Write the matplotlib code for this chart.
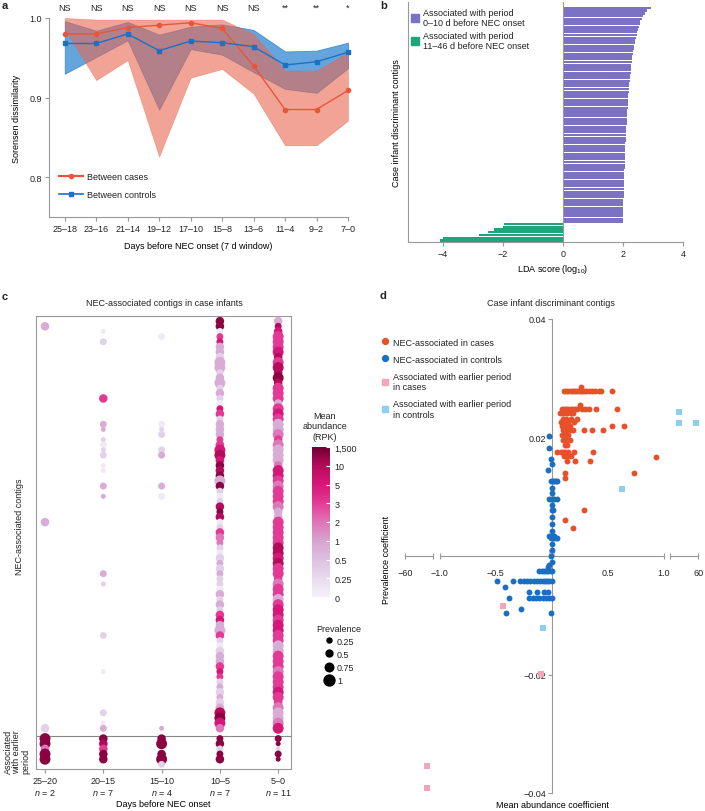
import numpy as np
import matplotlib
matplotlib.use("Agg")
import matplotlib.pyplot as plt
from matplotlib.colors import LinearSegmentedColormap, Normalize
from matplotlib.cm import ScalarMappable
from matplotlib.lines import Line2D
from matplotlib.patches import Patch

plt.rcParams["font.family"] = ["Liberation Sans", "DejaVu Sans"]
plt.rcParams["font.size"] = 6.5
plt.rcParams["mathtext.fontset"] = "custom"
plt.rcParams["mathtext.rm"] = "Liberation Sans"
plt.rcParams["mathtext.it"] = "Liberation Sans:italic"
plt.rcParams["text.color"] = "#222222"
plt.rcParams["axes.edgecolor"] = "#999999"
plt.rcParams["xtick.color"] = "#999999"
plt.rcParams["ytick.color"] = "#999999"
plt.rcParams["xtick.labelcolor"] = "#222222"
plt.rcParams["ytick.labelcolor"] = "#222222"

# ---------------- panel a data ----------------
windows = ["25–18", "23–16", "21–14", "19–12", "17–10", "15–8", "13–6", "11–4", "9–2", "7–0"]
cases_mean = [0.980, 0.980, 0.988, 0.991, 0.994, 0.987, 0.940, 0.885, 0.885, 0.909]
cases_hi = [1.000, 0.998, 0.998, 0.998, 0.998, 0.998, 0.980, 0.934, 0.934, 0.957]
cases_lo = [0.986, 0.922, 0.947, 0.826, 0.925, 0.936, 0.905, 0.840, 0.840, 0.871]
ctrl_mean = [0.968, 0.968, 0.980, 0.959, 0.971, 0.969, 0.964, 0.941, 0.945, 0.957]
ctrl_hi = [0.996, 0.984, 0.995, 0.979, 0.989, 0.992, 0.985, 0.958, 0.959, 0.969]
ctrl_lo = [0.930, 0.951, 0.972, 0.885, 0.961, 0.954, 0.932, 0.911, 0.906, 0.937]
signif = ["NS", "NS", "NS", "NS", "NS", "NS", "NS", "**", "**", "*"]

# ---------------- panel b data ----------------
lda_late = [2.94, 2.80, 2.72, 2.66, 2.62, 2.58, 2.55, 2.52, 2.49, 2.47,
            2.45, 2.43, 2.41, 2.39, 2.38, 2.36, 2.34, 2.33, 2.31, 2.30,
            2.29, 2.28, 2.27, 2.26, 2.25, 2.24, 2.23, 2.22, 2.21, 2.20,
            2.20, 2.19, 2.18, 2.18, 2.17, 2.16, 2.16, 2.15, 2.14, 2.14,
            2.13, 2.13, 2.12, 2.12, 2.11, 2.11, 2.10, 2.10, 2.09, 2.09,
            2.08, 2.08, 2.07, 2.07, 2.06, 2.06, 2.06, 2.05, 2.05, 2.05,
            2.04, 2.04, 2.04, 2.03, 2.03, 2.03, 2.03, 2.02, 2.02, 2.02,
            2.02, 2.01, 2.01, 2.01, 2.01, 2.00, 2.00, 2.00, 2.00, 1.99]
lda_early = [-1.98, -2.00, -2.30, -2.50, -2.80, -4.00, -4.10]

# ---------------- panel c data ----------------
periods = ["25–20", "20–15", "15–10", "10–5", "5–0"]
n_infants = [2, 7, 4, 7, 11]
# abundance level per NEC-associated contig (top to bottom), '0' lightest .. '7' darkest
abund_10_5 = "7704522122" "1221210541" "2224456576" "7271016760" "1433101212" "1102121452" "2410122454" "1212126753"
prev_10_5 = "3322233344" "2342322232" "3332344333" "3432223232" "2332223232" "2223232333" "4322333322" "2232334443"
abund_5_0 = "2654445646" "6764442454" "2234322235" "5434443224" "4444665644" "4344245545" "5442244434" "4454432235"
prev_5_0 = "3234444344" "3434443444" "4443444434" "4444444334" "4444444444" "3444444444" "4444444444" "4444344444"
# sparse columns: (contig row, abundance level, prevalence code)
sparse_25_20 = [(1, 2, 3), (39, 2, 3), (79, 1, 3)]
sparse_20_15 = [(2, 0, 1), (4, 1, 2), (15, 4, 3), (20, 2, 2), (21, 2, 1), (23, 1, 1), (24, 0, 2),
                (25, 1, 1), (26, 1, 2), (28, 0, 1), (29, 0, 1), (32, 2, 2), (34, 2, 1), (49, 2, 2),
                (51, 1, 1), (61, 1, 2), (68, 0, 1), (76, 1, 2), (78, 0, 1), (79, 2, 2)]
sparse_15_10 = [(3, 0, 2), (20, 0, 2), (21, 1, 1), (22, 1, 2), (25, 1, 2), (26, 2, 2),
                (32, 2, 2), (34, 0, 2), (79, 2, 1)]
# contigs associated with the earlier period (rows 81-86)
early_25_20 = [(81, 7, 4), (82, 7, 4), (83, 3, 3), (84, 7, 4), (85, 7, 4)]
early_20_15 = [(81, 7, 3), (82, 6, 3), (83, 4, 3), (84, 7, 3), (85, 7, 3)]
early_15_10 = [(81, 7, 3), (82, 7, 4), (84, 7, 3), (85, 7, 4), (86, 1, 2)]
early_10_5 = [(81, 7, 2), (82, 7, 3), (83, 1, 2), (84, 7, 2), (85, 7, 3)]
early_5_0 = [(81, 7, 2), (82, 7, 1), (83, 1, 1), (84, 7, 2), (85, 7, 1)]
cbar_labels = ["0", "0.25", "0.5", "1", "2", "3", "5", "10", "1,500"]
prevalence_vals = [0.25, 0.5, 0.75, 1]

# ---------------- panel d data ----------------
red_x = [0.11, 0.13, 0.15, 0.17, 0.19, 0.21, 0.23, 0.25, 0.27, 0.29, 0.31, 0.33, 0.36, 0.39, 0.42, 0.44, 0.54,
         0.26, 0.25,
         0.09, 0.11, 0.13, 0.15, 0.17, 0.19, 0.21, 0.23, 0.27, 0.30, 0.33, 0.40, 0.58,
         0.07, 0.09, 0.11, 0.14, 0.17, 0.19,
         0.10, 0.13, 0.17, 0.23,
         0.08, 0.12, 0.15, 0.20,
         0.09, 0.13, 0.16, 0.54, 0.65,
         0.10, 0.12, 0.14, 0.17, 0.19, 0.29, 0.36, 0.46,
         0.09, 0.12, 0.15,
         0.10, 0.13, 0.16,
         0.12, 0.14,
         0.05, 0.08, 0.10, 0.12, 0.15, 0.20, 0.37,
         0.11, 0.14, 0.17,
         0.14, 0.21, 0.34,
         0.93, 0.12, 0.74, 0.12, 0.29, 0.12, 0.19]
red_y = [0.0278] * 17 + [0.0285, 0.0255] + [0.0248] * 13 + [0.0241] * 6 + [0.0232] * 4 + [0.0226] * 4 \
    + [0.0220] * 5 + [0.0212] * 8 + [0.0204] * 3 + [0.0196] * 3 + [0.0187] * 2 + [0.0176] * 7 \
    + [0.0168] * 3 + [0.0160] * 3 + [0.0167, 0.0140, 0.0140, 0.0131, 0.0077, 0.0061, 0.0048]
blue_x = [-0.02, -0.02, -0.005, 0.0, -0.03,
          -0.005, 0.01, 0.025, 0.04, 0.05,
          0.005, 0.0,
          -0.02, -0.005, 0.01, 0.025, 0.045,
          0.0, 0.0, 0.015, 0.0, 0.005, 0.0,
          -0.02, 0.0, 0.02,
          -0.01, 0.01, 0.03, 0.05,
          0.005, 0.0, -0.01, 0.0, -0.02, -0.03,
          -0.11, -0.09, -0.07, -0.05, -0.03, -0.01, 0.0,
          -0.49, -0.35, -0.28, -0.25, -0.22, -0.19, -0.16, -0.13, -0.10, -0.08, -0.06, -0.04, -0.02, 0.0,
          -0.42,
          -0.20, -0.13, -0.07, -0.03,
          -0.38, -0.20, -0.17, -0.14, -0.11, -0.08, -0.05, -0.02, 0.0,
          -0.27, -0.41, -0.01]
blue_y = [0.0203, 0.0183, 0.0163, 0.0155, 0.0145] + [0.0127] * 5 + [0.0114, 0.0106] + [0.0097] * 5 \
    + [0.0086, 0.0077, 0.0077, 0.0066, 0.0054, 0.0042] + [0.0033] * 3 + [0.0030] * 4 \
    + [0.0021, 0.0010, 0.0, -0.00095, -0.0015, -0.0018] + [-0.0025] * 7 + [-0.0042] * 14 + [-0.0053] \
    + [-0.0060] * 4 + [-0.0071] * 9 + [-0.0089, -0.0097, -0.0097]
ltblue_x = [19.2, 19.2, 55.3, 0.63, -0.074]
ltblue_y = [0.0243, 0.0225, 0.0225, 0.0113, -0.0122]
pink_x = [-0.435, -0.092, -12.8, -12.8, 0.0]
pink_y = [-0.0084, -0.0199, -0.0355, -0.0391, 0.0005]

RED = "#e8563a"
BLUE = "#1f6fc4"

fig = plt.figure(figsize=(7.05, 8.12), dpi=100)


def fr(x0, y0, x1, y1):
    return [x0 / 705, 1 - y1 / 812, (x1 - x0) / 705, (y1 - y0) / 812]


def letter(x, y, s):
    fig.text(x / 705, 1 - y / 812, s, fontsize=8, fontweight="bold", va="center", ha="left")


# ================= a =================
ax = fig.add_axes(fr(49, 19, 348, 218))
x = np.arange(len(windows))
ax.fill_between(x, ctrl_lo, ctrl_hi, color="#3d8fd6", alpha=0.8, lw=0.6, edgecolor="#2f7fcf", clip_on=False)
ax.fill_between(x, cases_lo, cases_hi, color="#e8664f", alpha=0.6, lw=0.4, edgecolor="#e8664f", clip_on=False)
ax.plot(x, cases_mean, "-o", color=RED, lw=1.0, ms=3, clip_on=False, label="Between cases")
ax.plot(x, ctrl_mean, "-s", color=BLUE, lw=1.0, ms=3, clip_on=False, label="Between controls")
ax.set_xlim(-0.5, 9)
ax.set_ylim(0.75, 1.0)
ax.set_yticks([0.8, 0.9, 1.0])
ax.set_yticklabels(["0.8", "0.9", "1.0"])
ax.set_xticks(x)
ax.set_xticklabels(windows)
ax.tick_params(length=3, width=0.8, pad=2)
for s in ["top", "right"]:
    ax.spines[s].set_visible(False)
ax.set_ylabel("Sorensen dissimilarity", labelpad=6)
ax.set_xlabel("Days before NEC onset (7 d window)")
ax.xaxis.set_label_coords((198 - 49) / 299, (218 - 242) / 199)
for xi, s in zip(x, signif):
    ax.text(xi, 1.055, s, transform=ax.get_xaxis_transform(), ha="center", va="center", fontsize=6.5)
handles = [Line2D([], [], color=RED, marker="o", lw=1.6, ms=3),
           Line2D([], [], color=BLUE, marker="s", lw=1.2, ms=3)]
ax.legend(handles, ["Between cases", "Between controls"], loc="upper left",
          bbox_to_anchor=(0.035, 0.225), frameon=False, borderpad=0, borderaxespad=0,
          handlelength=2.6, handletextpad=0.4, labelspacing=1.0, fontsize=6.5)
letter(2, 6, "a")

# ================= b =================
ax = fig.add_axes(fr(408, 3, 683, 243))
late_bottom_first = lda_late[::-1]
early_bottom_first = lda_early[::-1]
ypos_e = np.arange(len(early_bottom_first))
ypos_l = np.arange(len(late_bottom_first)) + len(early_bottom_first)
ax.barh(ypos_e, early_bottom_first, height=0.86, color="#1ea57c", lw=0)
ax.barh(ypos_l, late_bottom_first, height=0.86, color="#7b72c4", lw=0)
ax.axvline(0, color="#999999", lw=0.8)
ax.set_xlim(-5.17, 4)
ax.set_ylim(-0.6, len(early_bottom_first) + len(late_bottom_first) + 1.2)
ax.set_xticks([-4, -2, 0, 2, 4])
ax.set_yticks([])
ax.tick_params(length=3, width=0.8, pad=2)
for s in ["top", "right"]:
    ax.spines[s].set_visible(False)
ax.set_ylabel("Case infant discriminant contigs")
ax.yaxis.set_label_coords(-0.025, 0.5)
ax.set_xlabel("LDA score (log$_{10}$)")
ax.xaxis.set_label_coords((553 - 408) / 275, (243 - 263) / 240)
ax.legend([Patch(color="#7b72c4"), Patch(color="#1ea57c")],
          ["Associated with period\n0–10 d before NEC onset",
           "Associated with period\n11–46 d before NEC onset"],
          loc="upper left", bbox_to_anchor=(0.012, 0.975), frameon=False, borderpad=0, borderaxespad=0,
          handlelength=0.85, handleheight=0.85, handletextpad=0.5, labelspacing=0.4, fontsize=6.5)
letter(380, 6, "b")

# ================= c =================
ax = fig.add_axes(fr(36, 317, 291, 770))
cmap = LinearSegmentedColormap.from_list("rpk", ["#f5f0f7", "#e8dbee", "#dcc0e0", "#d7a3d0", "#df74b6",
                                                 "#e33c96", "#d61878", "#b80a5c", "#6e0030"])
norm = Normalize(0, 8)
level_pos = [0.3, 1.4, 2.7, 3.9, 5.0, 6.0, 7.0, 7.6]
prev_s = [13, 25, 38, 62]

cols = []
for ci, sp in enumerate([sparse_25_20, sparse_20_15, sparse_15_10]):
    cols.append((ci, sp))
cols.append((3, [(i, int(a), int(p)) for i, (a, p) in enumerate(zip(abund_10_5, prev_10_5))]))
cols.append((4, [(i, int(a), int(p)) for i, (a, p) in enumerate(zip(abund_5_0, prev_5_0))]))
early = [early_25_20, early_20_15, early_15_10, early_10_5, early_5_0]
for ci, pts in cols:
    pts = pts + early[ci]
    rows = [p[0] for p in pts]
    colors = [cmap(norm(level_pos[p[1]])) for p in pts]
    sizes = [prev_s[p[2] - 1] for p in pts]
    ax.scatter([ci] * len(pts), rows, s=sizes, c=colors, lw=0, zorder=3)
ax.axhline(80.5, color="#888888", lw=0.8)
ax.set_ylim(86.9, -1)
ax.set_xlim(-0.155, 4.22)
ax.set_yticks([])
ax.set_xticks(range(5))
ax.set_xticklabels([f"{p}\n$n$ = {n}" for p, n in zip(periods, n_infants)])
ax.tick_params(axis="x", length=3, width=0.8, pad=2)
ax.set_xlabel("Days before NEC onset")
ax.xaxis.set_label_coords((163 - 36) / 255, (770 - 800) / 453)
fig.text(164 / 705, 1 - 304 / 812, "NEC-associated contigs in case infants", ha="center", va="center")
fig.text(20 / 705, 1 - 527 / 812, "NEC-associated contigs", rotation=90, ha="center", va="center")
fig.text(17 / 705, 1 - 752 / 812, "Associated\nwith earlier\nperiod", rotation=90, ha="center", va="center",
         linespacing=1.0, multialignment="left")
letter(2, 297, "c")

cax = fig.add_axes(fr(312, 448, 330, 598))
cb = fig.colorbar(ScalarMappable(norm=norm, cmap=cmap), cax=cax, ticks=range(9))
cb.ax.set_yticklabels(cbar_labels)
cb.outline.set_visible(False)
cb.ax.tick_params(direction="in", color="white", length=3, width=0.8, labelsize=6.5, pad=3)
fig.text(325 / 705, 1 - 427 / 812, "Mean\nabundance\n(RPK)", ha="center", va="center", linespacing=1.2)
prev_handles = [Line2D([], [], ls="", marker="o", color="black", ms=np.sqrt(s)) for s in prev_s]
fig.legend(prev_handles, [f"{v:g}" for v in prevalence_vals], title="Prevalence",
           loc="upper left", bbox_to_anchor=(312 / 705, 1 - 620 / 812), frameon=False,
           borderpad=0, handletextpad=0.3, labelspacing=0.45, fontsize=6.5, title_fontsize=6.5,
           handlelength=1.2)

# ================= d =================


def fwd(v):
    v = np.asarray(v, dtype=float)
    a = np.abs(v)
    return np.where(a <= 1, v, np.sign(v) * (1.06 + (a - 1) * 0.25 / 59))


def inv(u):
    u = np.asarray(u, dtype=float)
    a = np.abs(u)
    return np.where(a <= 1, u, np.where(a < 1.06, np.sign(u), np.sign(u) * (1 + (a - 1.06) * 59 / 0.25)))


ax = fig.add_axes(fr(395, 320, 705, 794))
ax.set_xscale("function", functions=(fwd, inv))
ax.scatter(red_x, red_y, s=18, color="#e8502a", lw=0, zorder=3)
ax.scatter(blue_x, blue_y, s=18, color="#1a6fc4", lw=0, zorder=3)
ax.scatter(pink_x, pink_y, s=20, marker="s", color="#f4a6b8", lw=0, zorder=2)
ax.scatter(ltblue_x, ltblue_y, s=20, marker="s", color="#8ecfee", lw=0, zorder=2)
ax.set_xlim(float(inv(-1.40)), float(inv(1.37)))
ax.set_ylim(-0.04, 0.04)
ax.spines["left"].set_position(("data", 0))
ax.spines["bottom"].set_position(("data", 0))
for s in ["top", "right", "bottom"]:
    ax.spines[s].set_visible(False)
for a0, a1 in [(-60, -1.01), (-1, 1), (1.01, 60)]:
    ax.plot([a0, a1], [0, 0], color="#999999", lw=0.8, clip_on=False, zorder=1)
    ax.plot([a0, a1], [0, 0], ls="", marker="|", ms=4, mew=0.8, color="#999999", clip_on=False, zorder=1)
ax.set_xticks([-60, -1, -0.5, 0.5, 1, 60])
ax.set_xticklabels(["−60", "−1.0", "−0.5", "0.5", "1.0", "60"])
ax.tick_params(axis="x", length=0, pad=9)
ax.set_yticks([-0.04, -0.02, 0.02, 0.04])
ax.set_yticklabels(["−0.04", "−0.02", "0.02", "0.04"])
ax.tick_params(axis="y", length=3, width=0.8, pad=1)
ax.set_ylabel("Prevalence coefficient")
ax.yaxis.set_label_coords((391 - 395) / 310, (794 - 560) / 474)
ax.set_xlabel("Mean abundance coefficient")
ax.xaxis.set_label_coords((552 - 395) / 310, (794 - 801) / 474)
fig.text(551 / 705, 1 - 304 / 812, "Case infant discriminant contigs", ha="center", va="center")
d_handles = [Line2D([], [], ls="", marker="o", color="#e8502a", ms=4.2),
             Line2D([], [], ls="", marker="o", color="#1a6fc4", ms=4.2),
             Line2D([], [], ls="", marker="s", color="#f4a6b8", ms=4.2),
             Line2D([], [], ls="", marker="s", color="#8ecfee", ms=4.2)]
fig.legend(d_handles, ["NEC-associated in cases", "NEC-associated in controls",
                       "Associated with earlier period\nin cases", "Associated with earlier period\nin controls"],
           loc="upper left", bbox_to_anchor=(377 / 705, 1 - 334 / 812), frameon=False, borderpad=0,
           handlelength=0.8, handletextpad=0.5, labelspacing=0.9, fontsize=6.5)
letter(380, 296, "d")

fig.savefig("out.png", dpi=100)
